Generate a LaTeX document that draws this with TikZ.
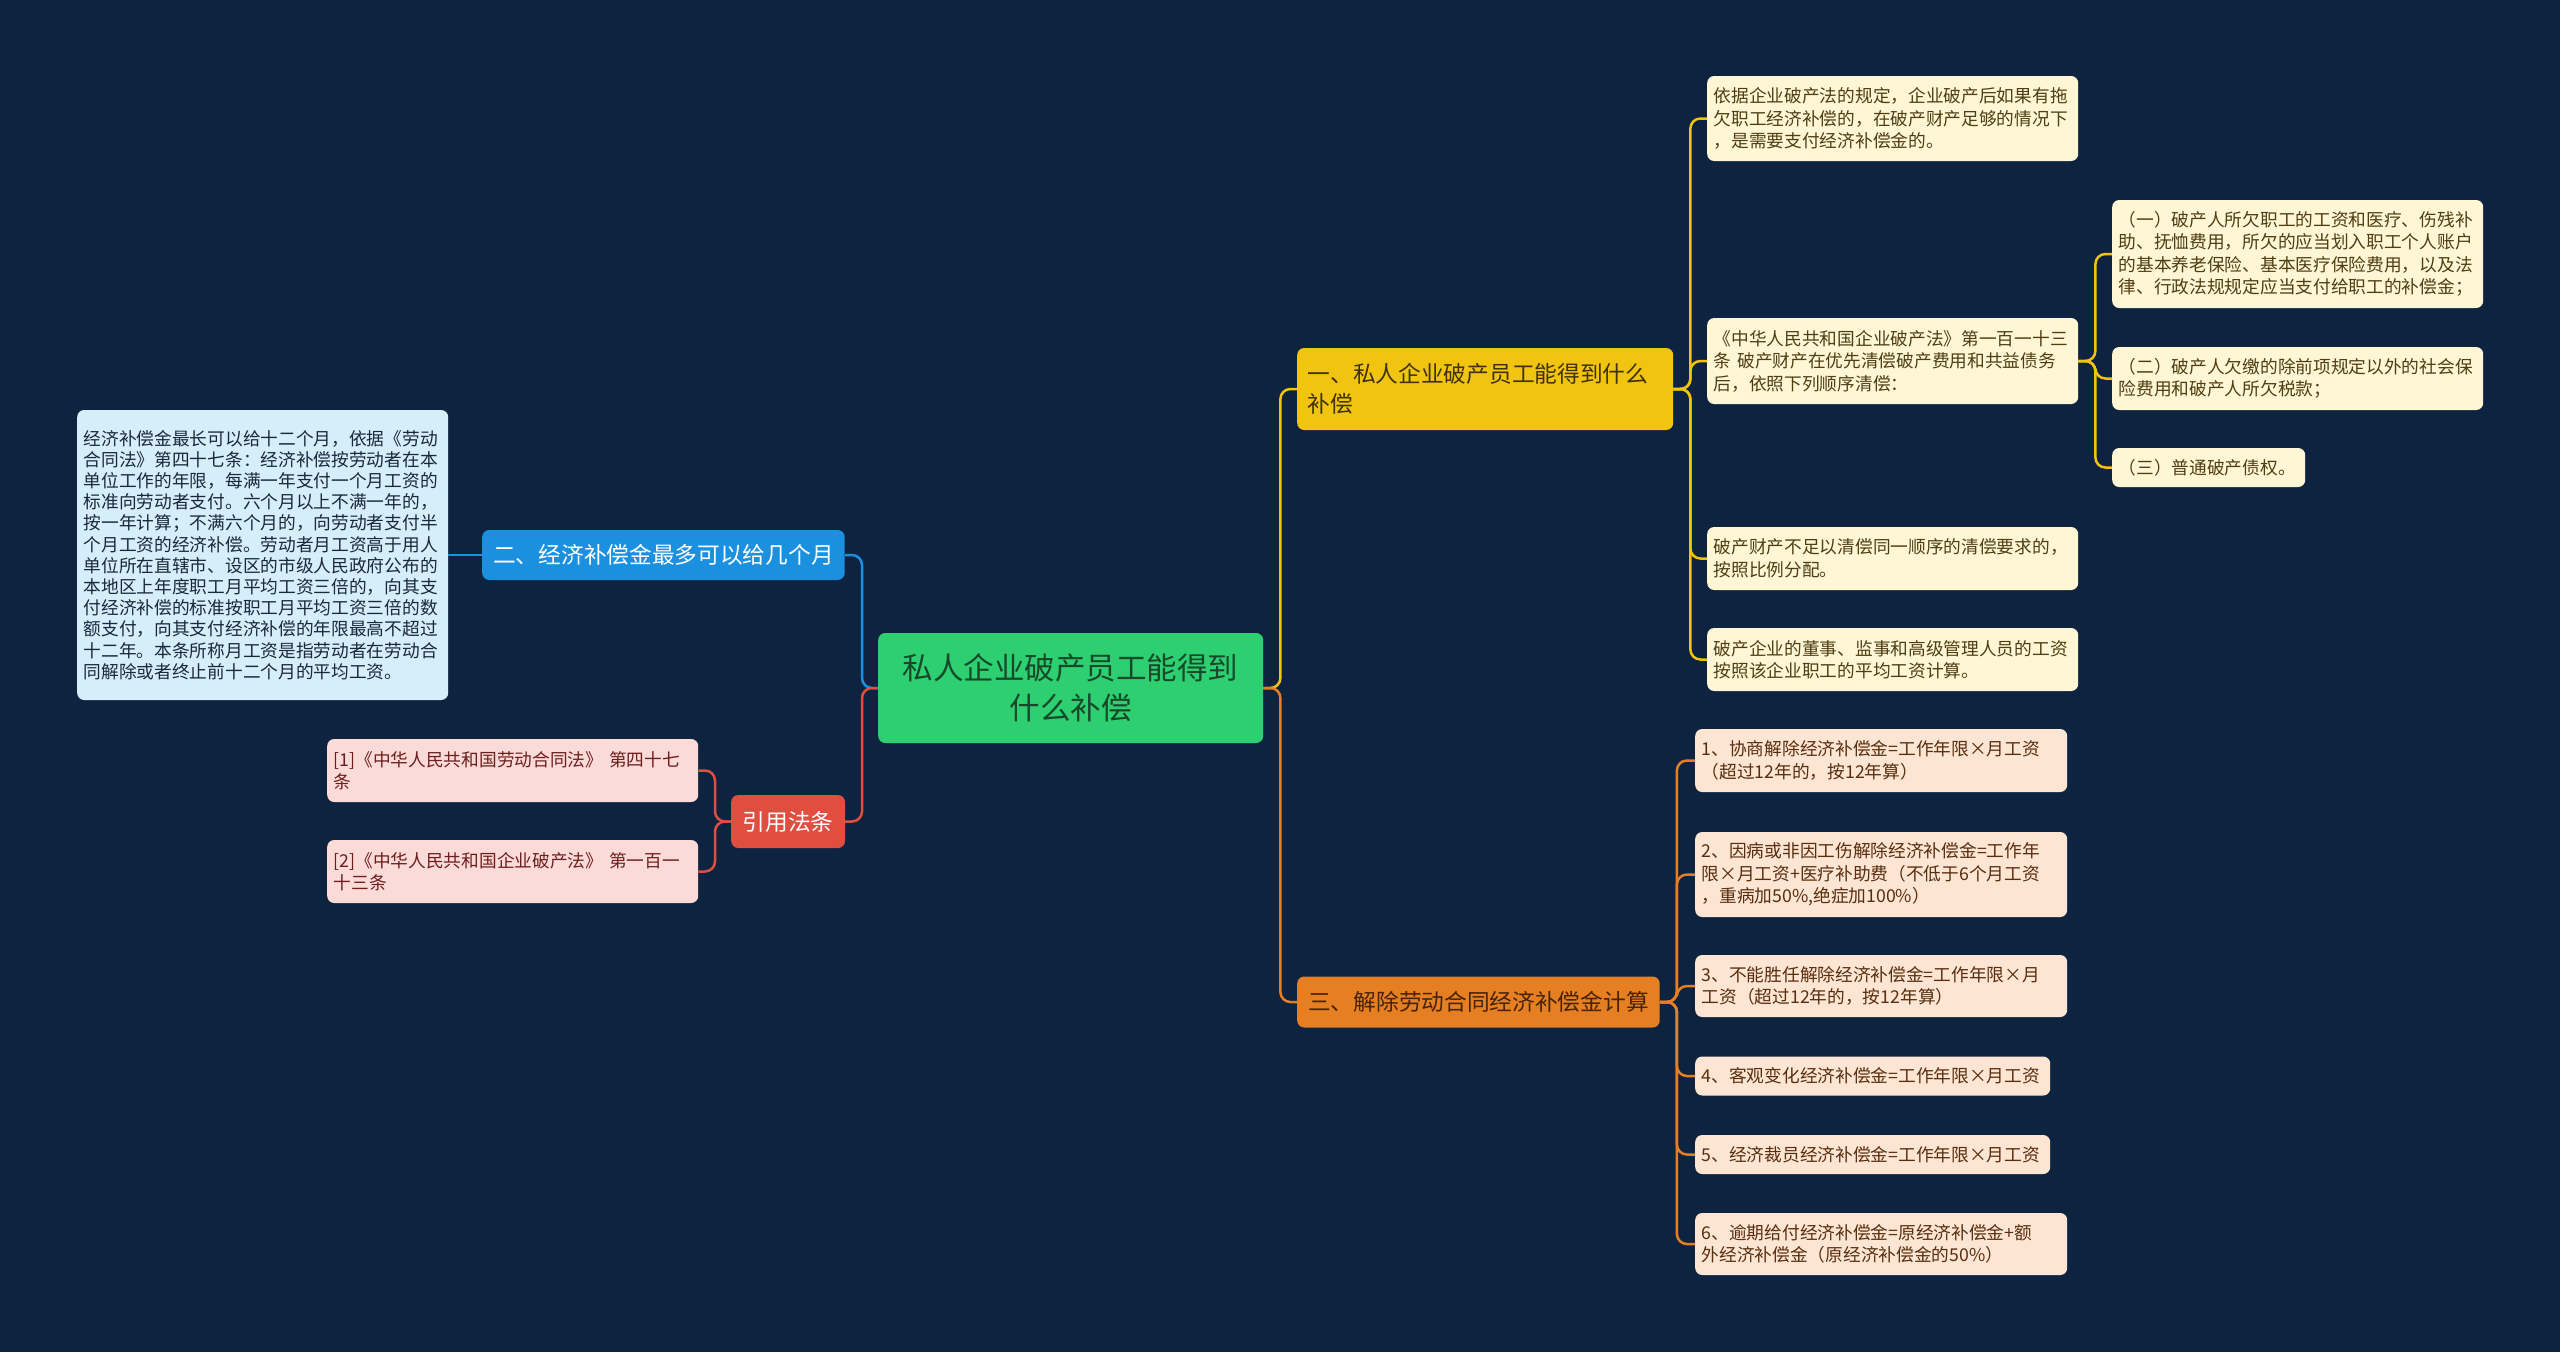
\documentclass[tikz,border=0pt]{standalone}
\usepackage{fontspec}
\setmainfont{Noto Sans CJK SC}
\usetikzlibrary{positioning}
\definecolor{bgnavy}{RGB}{13,35,64}
\definecolor{rootgreen}{RGB}{46,207,113}
\definecolor{roottext}{RGB}{22,72,42}
\definecolor{ybranch}{RGB}{241,196,15}
\definecolor{obranch}{RGB}{230,126,34}
\definecolor{bbranch}{RGB}{27,144,222}
\definecolor{rbranch}{RGB}{224,78,64}
\definecolor{ybtext}{RGB}{64,50,5}
\definecolor{obtext}{RGB}{72,36,6}
\definecolor{yleaffill}{RGB}{255,246,214}
\definecolor{oleaffill}{RGB}{252,229,210}
\definecolor{bleaffill}{RGB}{214,238,250}
\definecolor{rleaffill}{RGB}{250,219,216}
\definecolor{yltext}{RGB}{78,62,18}
\definecolor{oltext}{RGB}{88,46,16}
\definecolor{bltext}{RGB}{26,40,62}
\definecolor{rltext}{RGB}{110,30,30}
\tikzset{
  basebox/.style={rounded corners=7pt, anchor=west, inner ysep=0pt},
  leafbox/.style={basebox, align=left, inner xsep=6.5pt,
    font=\fontsize{17.7}{22.5}\selectfont},
  yleaf/.style={leafbox, fill=yleaffill, text=yltext},
  oleaf/.style={leafbox, fill=oleaffill, text=oltext},
  bleaf/.style={leafbox, fill=bleaffill, text=bltext,
    font=\fontsize{17.7}{21.2}\selectfont},
  rleaf/.style={leafbox, fill=rleaffill, text=rltext},
  branchbox/.style={basebox, align=left, inner xsep=10.5pt,
    font=\fontsize{22.7}{30}\selectfont},
  link/.style={line width=2.5pt, rounded corners=10pt},
  ylink/.style={link, draw=ybranch},
  olink/.style={link, draw=obranch},
  blink/.style={link, draw=bbranch},
  rlink/.style={link, draw=rbranch}
}

\begin{document}
\begin{tikzpicture}[x=1pt,y=-1pt]
\fill[bgnavy] (0,0) rectangle (2560,1352);

% centre
\node[basebox, fill=rootgreen, text=roottext, align=center, inner xsep=20pt,
    text width=345pt, minimum height=110pt,
    font=\fontsize{30.5}{40}\selectfont]
  (root) at (878,688) {私人企业破产员工能得到\\什么补偿};

% branches
\node[branchbox, fill=ybranch, text=ybtext, text width=355pt, minimum height=82pt]
  (br1) at (1297,389) {一、私人企业破产员工能得到什么\\补偿};
\node[branchbox, fill=obranch, text=obtext, inner xsep=11pt, minimum height=51pt]
  (br3) at (1297,1002) {三、解除劳动合同经济补偿金计算};
\node[branchbox, fill=bbranch, text=white, inner xsep=11pt, minimum height=50pt]
  (br2) at (482,555) {二、经济补偿金最多可以给几个月};
\node[branchbox, fill=rbranch, text=white, inner xsep=11.5pt, minimum height=53pt]
  (brref) at (731,821.5) {引用法条};

% branch 1
\node[yleaf, text width=358pt, minimum height=85pt] (p1) at (1707,118.5)
  {依据企业破产法的规定，企业破产后如果有拖\\欠职工经济补偿的，在破产财产足够的情况下\\，是需要支付经济补偿金的。};
\node[yleaf, text width=358pt, minimum height=86pt] (p2) at (1707,361)
  {《中华人民共和国企业破产法》第一百一十三\\条 破产财产在优先清偿破产费用和共益债务\\后，依照下列顺序清偿：};
\node[yleaf, text width=358pt, minimum height=63pt] (p3) at (1707,558.5)
  {破产财产不足以清偿同一顺序的清偿要求的，\\按照比例分配。};
\node[yleaf, text width=358pt, minimum height=63pt] (p4) at (1707,659.5)
  {破产企业的董事、监事和高级管理人员的工资\\按照该企业职工的平均工资计算。};
\node[yleaf, text width=358pt, minimum height=108pt] (p2a) at (2112,254)
  {（一）破产人所欠职工的工资和医疗、伤残补\\助、抚恤费用，所欠的应当划入职工个人账户\\的基本养老保险、基本医疗保险费用，以及法\\律、行政法规规定应当支付给职工的补偿金；};
\node[yleaf, text width=358pt, minimum height=63pt] (p2b) at (2112,378.5)
  {（二）破产人欠缴的除前项规定以外的社会保\\险费用和破产人所欠税款；};
\node[yleaf, text width=180pt, minimum height=39pt] (p2c) at (2112,467.5)
  {（三）普通破产债权。};

% branch 3
\node[oleaf, text width=359pt, minimum height=63pt] (c1) at (1695,760.5)
  {1、协商解除经济补偿金=工作年限×月工资\\（超过12年的，按12年算）};
\node[oleaf, text width=359pt, minimum height=85pt] (c2) at (1695,874.5)
  {2、因病或非因工伤解除经济补偿金=工作年\\限×月工资+医疗补助费（不低于6个月工资\\，重病加50\%,绝症加100\%）};
\node[oleaf, text width=359pt, minimum height=62pt] (c3) at (1695,986)
  {3、不能胜任解除经济补偿金=工作年限×月\\工资（超过12年的，按12年算）};
\node[oleaf, text width=342pt, minimum height=39pt] (c4) at (1695,1076)
  {4、客观变化经济补偿金=工作年限×月工资};
\node[oleaf, text width=342pt, minimum height=39pt] (c5) at (1695,1154.5)
  {5、经济裁员经济补偿金=工作年限×月工资};
\node[oleaf, text width=359pt, minimum height=62pt] (c6) at (1695,1244)
  {6、逾期给付经济补偿金=原经济补偿金+额\\外经济补偿金（原经济补偿金的50\%）};

% branch 2
\node[bleaf, text width=358pt, minimum height=290pt] (mleaf) at (77,555)
  {经济补偿金最长可以给十二个月，依据《劳动\\合同法》第四十七条：经济补偿按劳动者在本\\单位工作的年限，每满一年支付一个月工资的\\标准向劳动者支付。六个月以上不满一年的，\\按一年计算；不满六个月的，向劳动者支付半\\个月工资的经济补偿。劳动者月工资高于用人\\单位所在直辖市、设区的市级人民政府公布的\\本地区上年度职工月平均工资三倍的，向其支\\付经济补偿的标准按职工月平均工资三倍的数\\额支付，向其支付经济补偿的年限最高不超过\\十二年。本条所称月工资是指劳动者在劳动合\\同解除或者终止前十二个月的平均工资。};

% references
\node[rleaf, text width=358pt, minimum height=63pt] (ref1) at (327,770.5)
  {[1]《中华人民共和国劳动合同法》 第四十七\\条};
\node[rleaf, text width=358pt, minimum height=63pt] (ref2) at (327,871.5)
  {[2]《中华人民共和国企业破产法》 第一百一\\十三条};

\begin{scope}
\draw[ylink] (root.east) -- ++(17,0) |- (br1.west);
\draw[olink] (root.east) -- ++(17,0) |- (br3.west);
\draw[blink] (root.west) -- ++(-16,0) |- (br2.east);
\draw[rlink] (root.west) -- ++(-16,0) |- (brref.east);
\draw[blink] (br2.west) -- (br2.west -| mleaf.east);
\foreach \n in {p1,p2,p3,p4}
  \draw[ylink] (br1.east) -- ++(17,0) |- (\n.west);
\foreach \n in {p2a,p2b,p2c}
  \draw[ylink] (p2.east) -- ++(17,0) |- (\n.west);
\foreach \n in {c1,c2,c3,c4,c5,c6}
  \draw[olink] (br3.east) -- ++(17,0) |- (\n.west);
\foreach \n in {ref1,ref2}
  \draw[rlink] (brref.west) -- ++(-16,0) |- (\n.east);
\end{scope}
\end{tikzpicture}
\end{document}
